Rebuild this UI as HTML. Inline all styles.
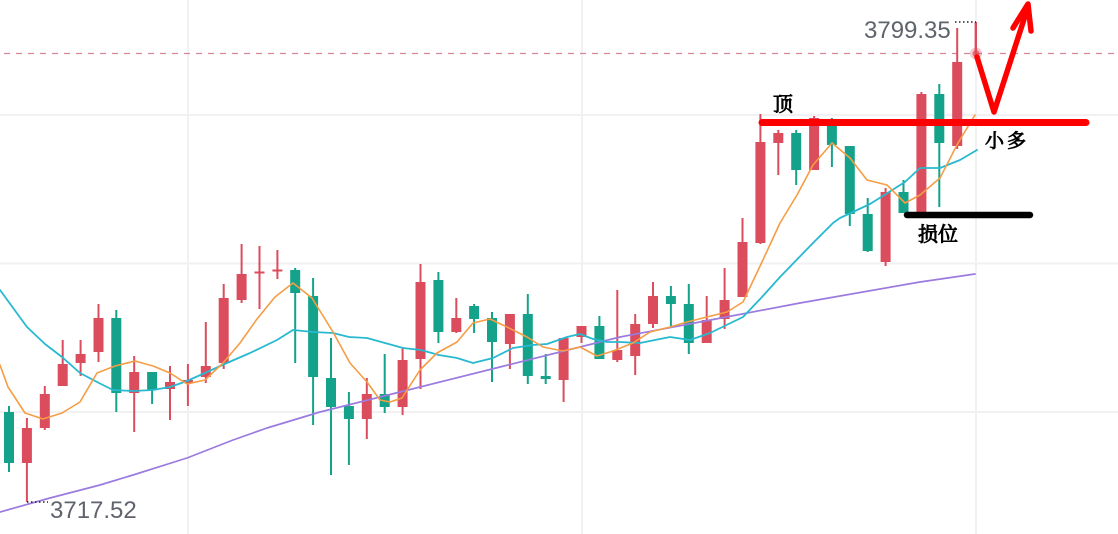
<!DOCTYPE html>
<html><head><meta charset="utf-8"><style>
html,body{margin:0;padding:0;background:#fff;}
svg{display:block;}
</style></head><body>
<svg width="1118" height="534" viewBox="0 0 1118 534" xmlns="http://www.w3.org/2000/svg">
<rect width="1118" height="534" fill="#fff"/>
<g stroke="#f1f1f3" stroke-width="2">
<line x1="0" y1="115" x2="1118" y2="115"/>
<line x1="0" y1="263.5" x2="1118" y2="263.5"/>
<line x1="0" y1="412" x2="1118" y2="412"/>
<line x1="188" y1="0" x2="188" y2="534"/>
<line x1="582" y1="0" x2="582" y2="534"/>
<line x1="976" y1="0" x2="976" y2="534"/>
</g>
<line x1="4" y1="53.5" x2="1118" y2="53.5" stroke="#d68896" stroke-width="1.3" stroke-dasharray="6 6"/>
<g fill="#db4c5c">
<rect x="25.9" y="418" width="2" height="84"/><rect x="21.9" y="428" width="10" height="35"/>
<rect x="43.8" y="386" width="2" height="44"/><rect x="39.8" y="394" width="10" height="34"/>
<rect x="61.7" y="340" width="2" height="46"/><rect x="57.7" y="364" width="10" height="22"/>
<rect x="79.6" y="340" width="2" height="36"/><rect x="75.6" y="354" width="10" height="9"/>
<rect x="97.5" y="304" width="2" height="58"/><rect x="93.5" y="318" width="10" height="34"/>
<rect x="133.2" y="356" width="2" height="76"/><rect x="129.2" y="372" width="10" height="21"/>
<rect x="169" y="366" width="2" height="54"/><rect x="165" y="382" width="10" height="7"/>
<rect x="186.9" y="364" width="2" height="42"/><rect x="182.9" y="380" width="10" height="3"/>
<rect x="204.8" y="322" width="2" height="61"/><rect x="200.8" y="366" width="10" height="11"/>
<rect x="222.7" y="284" width="2" height="85"/><rect x="218.7" y="298" width="10" height="65"/>
<rect x="240.6" y="244" width="2" height="59"/><rect x="236.6" y="274" width="10" height="26"/>
<rect x="258.5" y="246" width="2" height="63"/><rect x="254.5" y="271.5" width="10" height="2"/>
<rect x="276.4" y="250" width="2" height="29"/><rect x="272.4" y="269.5" width="10" height="2"/>
<rect x="365.8" y="378" width="2" height="61"/><rect x="361.8" y="394" width="10" height="25"/>
<rect x="401.6" y="347" width="2" height="68"/><rect x="397.6" y="360" width="10" height="47"/>
<rect x="419.5" y="264" width="2" height="125"/><rect x="415.5" y="282" width="10" height="77"/>
<rect x="455.3" y="298" width="2" height="35"/><rect x="451.3" y="318" width="10" height="14"/>
<rect x="508.9" y="314" width="2" height="55"/><rect x="504.9" y="314" width="10" height="30"/>
<rect x="562.6" y="338" width="2" height="64"/><rect x="558.6" y="338" width="10" height="42"/>
<rect x="580.5" y="326" width="2" height="17"/><rect x="576.5" y="326" width="10" height="11"/>
<rect x="616.3" y="290" width="2" height="72"/><rect x="612.3" y="350" width="10" height="10"/>
<rect x="634.2" y="314" width="2" height="61"/><rect x="630.2" y="324" width="10" height="32"/>
<rect x="652" y="282" width="2" height="46"/><rect x="648" y="296" width="10" height="28"/>
<rect x="705.7" y="296" width="2" height="47"/><rect x="701.7" y="320" width="10" height="23"/>
<rect x="723.6" y="268" width="2" height="61"/><rect x="719.6" y="300" width="10" height="19"/>
<rect x="741.5" y="218" width="2" height="79"/><rect x="737.5" y="242" width="10" height="55"/>
<rect x="759.4" y="114" width="2" height="130"/><rect x="755.4" y="142" width="10" height="101"/>
<rect x="777.3" y="130" width="2" height="45"/><rect x="773.3" y="133" width="10" height="10"/>
<rect x="813.1" y="116" width="2" height="54"/><rect x="809.1" y="118" width="10" height="52"/>
<rect x="884.6" y="188" width="2" height="78"/><rect x="880.6" y="192" width="10" height="70"/>
<rect x="920.4" y="92" width="2" height="123"/><rect x="916.4" y="94" width="10" height="121"/>
<rect x="956.2" y="28" width="2" height="121"/><rect x="952.2" y="62" width="10" height="84"/>
<rect x="974.6" y="22" width="2.4" height="36"/>
</g>
<g fill="#14a38a">
<rect x="8" y="406" width="2" height="66"/><rect x="4" y="412" width="10" height="51"/>
<rect x="115.3" y="310" width="2" height="102"/><rect x="111.3" y="318" width="10" height="75"/>
<rect x="151.1" y="372" width="2" height="32"/><rect x="147.1" y="372" width="10" height="18"/>
<rect x="294.2" y="268" width="2" height="95"/><rect x="290.2" y="270" width="10" height="23"/>
<rect x="312.1" y="278" width="2" height="147"/><rect x="308.1" y="296" width="10" height="81"/>
<rect x="330" y="338" width="2" height="137"/><rect x="326" y="378" width="10" height="29"/>
<rect x="347.9" y="392" width="2" height="73"/><rect x="343.9" y="406" width="10" height="13"/>
<rect x="383.7" y="354" width="2" height="59"/><rect x="379.7" y="394" width="10" height="13"/>
<rect x="437.4" y="272" width="2" height="71"/><rect x="433.4" y="280" width="10" height="52"/>
<rect x="473.1" y="304" width="2" height="29"/><rect x="469.1" y="306" width="10" height="13"/>
<rect x="491" y="312" width="2" height="70"/><rect x="487" y="318" width="10" height="24"/>
<rect x="526.8" y="294" width="2" height="90"/><rect x="522.8" y="314" width="10" height="62"/>
<rect x="544.7" y="354" width="2" height="30"/><rect x="540.7" y="376" width="10" height="3"/>
<rect x="598.4" y="316" width="2" height="43"/><rect x="594.4" y="326" width="10" height="33"/>
<rect x="669.9" y="286" width="2" height="41"/><rect x="665.9" y="296" width="10" height="8"/>
<rect x="687.8" y="284" width="2" height="70"/><rect x="683.8" y="304" width="10" height="39"/>
<rect x="795.2" y="130" width="2" height="55"/><rect x="791.2" y="133" width="10" height="37"/>
<rect x="830.9" y="118" width="2" height="49"/><rect x="826.9" y="120" width="10" height="25"/>
<rect x="848.8" y="146" width="2" height="80"/><rect x="844.8" y="146" width="10" height="68"/>
<rect x="866.7" y="198" width="2" height="54"/><rect x="862.7" y="214" width="10" height="37"/>
<rect x="902.5" y="180" width="2" height="33"/><rect x="898.5" y="192" width="10" height="21"/>
<rect x="938.3" y="84" width="2" height="123"/><rect x="934.3" y="94" width="10" height="49"/>
</g>
<g fill="none" stroke-linejoin="round" stroke-linecap="round">
<polyline stroke="#9b7be0" stroke-width="1.7" points="0,512 50,498 100,485 133,475 187,458 233,440 267,428 320,412 400,392 500,367 620,337 700,322 800,303 920,282 975,274"/>
<polyline stroke="#27b9d0" stroke-width="1.8" points="0,290 27,327 45,344 62,357 80,373 99,383 113,390 133,391 153,390 170,387 187,381 207,372 227,363 250,353 277,340 293,330 313,332 333,333 349,337 367,338 385,343 403,348 421,350 439,355 457,358 473,363 493,358 513,348 533,345 547,344 567,337 580,334 593,339 607,342 620,342 640,343 670,337 690,340 710,333 743,317 762,297 780,277 813,243 833,223 840,218 870,204 905,182 920,168 940,168 960,160 977,150"/>
<polyline stroke="#f59d45" stroke-width="1.6" points="0,365 8,387 25,413 43,419 62,413 80,402 97,373 115,366 135,361 153,366 170,373 187,384 205,380 223,363 240,343 257,319 275,297 293,283 312,298 333,332 350,363 367,382 380,400 390,402 402,398 420,370 437,353 457,342 473,323 490,319 507,327 527,337 543,347 563,351 580,347 597,356 613,351 633,343 650,332 670,327 687,322 707,317 727,312 743,302 762,262 780,223 797,195 813,165 832,143 850,158 867,180 887,185 905,203 920,195 940,178 958,143 975,115"/>
</g>
<circle cx="976" cy="53.5" r="6" fill="#e04a5a" opacity="0.3"/>
<circle cx="976" cy="53.5" r="3.5" fill="#e04a5a" opacity="0.7"/>
<g stroke="#222" stroke-width="1.5" stroke-dasharray="1.5 2.5">
<line x1="955" y1="22" x2="976" y2="22"/>
<line x1="27" y1="502" x2="48" y2="502"/>
</g>
<text x="864" y="38" font-family="Liberation Sans, sans-serif" font-size="24" fill="#5f636b">3799.35</text>
<text x="50" y="518" font-family="Liberation Sans, sans-serif" font-size="24" fill="#5f636b">3717.52</text>
<line x1="762" y1="122.5" x2="1086" y2="122.5" stroke="#ff0000" stroke-width="7" stroke-linecap="round"/>
<line x1="907" y1="215" x2="1030" y2="215" stroke="#000" stroke-width="6.5" stroke-linecap="round"/>
<g fill="none" stroke="#ff0000" stroke-width="5.5" stroke-linecap="round" stroke-linejoin="round">
<polyline points="977,57 994,112 1027,10"/>
<polyline points="1013,28 1028,4 1031,31"/>
</g>
<g font-family="'Noto Serif CJK SC', 'Liberation Serif', serif" fill="#000" stroke="#000" stroke-width="0.9">
<text x="773" y="111" font-size="20">顶</text>
<text x="985" y="147" font-size="19" letter-spacing="3">小多</text>
<text x="918" y="241" font-size="20">损位</text>
</g>
</svg>
</body></html>
